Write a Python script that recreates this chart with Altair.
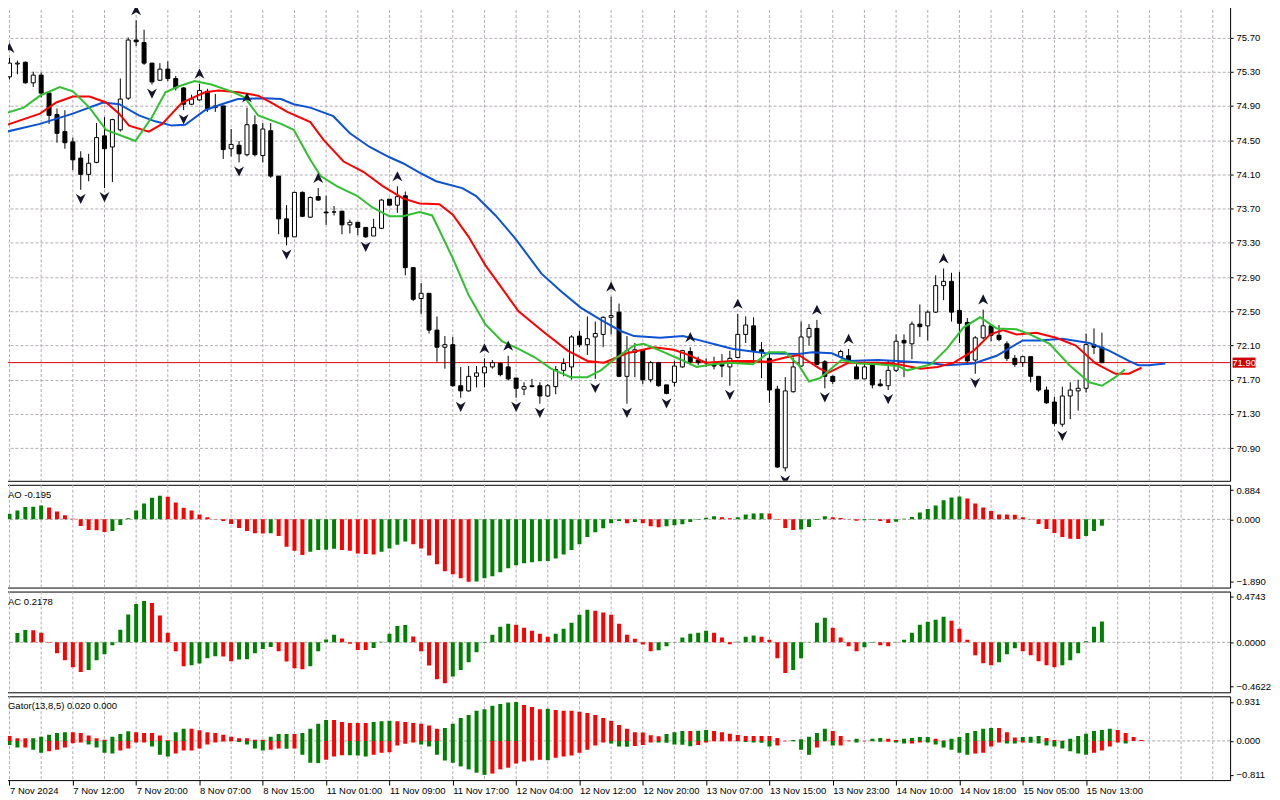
import json
import altair as alt
import pandas as pd

# ---------------- data ----------------
OPEN = [75.24, 75.39, 75.41, 75.17, 75.26, 75.05, 74.80, 74.60, 74.48, 74.29,
        74.10, 74.24, 74.55, 74.42, 74.62, 74.99, 75.67, 75.64, 75.40, 75.20,
        75.33, 75.22, 75.11, 74.92, 74.97, 75.07, 74.88, 74.90, 74.40, 74.44,
        74.33, 74.68, 74.32, 74.61, 74.08, 73.58, 73.37, 73.89, 73.60, 73.84,
        73.66, 73.66, 73.67, 73.51, 73.54, 73.48, 73.38, 73.47, 73.81, 73.74,
        73.85, 73.01, 72.65, 72.71, 72.28, 72.08, 72.11, 71.63, 71.57, 71.74,
        71.78, 71.85, 71.89, 71.85, 71.72, 71.59, 71.62, 71.63, 71.51, 71.62,
        71.81, 71.85, 72.21, 72.11, 72.20, 72.23, 72.43, 72.49, 71.74, 72.02,
        72.05, 71.70, 71.90, 71.64, 71.67, 71.85, 72.03, 71.93, 71.90, 71.88,
        71.88, 71.85, 71.96, 72.23, 72.33, 72.05, 71.95, 71.59, 70.67, 71.56,
        71.86, 72.20, 72.30, 71.91, 71.74, 71.97, 71.98, 71.85, 71.71, 71.87,
        71.65, 71.63, 71.81, 72.16, 72.12, 72.35, 72.33, 72.49, 72.80, 72.85,
        72.51, 72.37, 71.93, 72.19, 72.33, 72.22, 72.12, 71.95, 71.90, 71.97,
        71.74, 71.58, 71.44, 71.18, 71.51, 71.57, 71.60, 72.11, 72.08]
HIGH = [75.46, 75.43, 75.42, 75.30, 75.29, 75.05, 74.87, 74.85, 74.53, 74.37,
        74.34, 74.70, 74.77, 74.75, 75.22, 75.70, 75.90, 75.79, 75.40, 75.40,
        75.42, 75.25, 75.12, 75.03, 75.16, 75.10, 75.04, 74.90, 74.63, 74.49,
        74.88, 74.79, 74.70, 74.70, 74.08, 73.74, 73.89, 73.90, 73.84, 73.94,
        73.85, 73.73, 73.67, 73.57, 73.54, 73.48, 73.58, 73.81, 73.81, 73.96,
        73.90, 73.01, 72.83, 72.71, 72.44, 72.21, 72.20, 71.85, 71.86, 71.86,
        71.95, 71.93, 71.90, 71.98, 71.72, 71.67, 71.71, 71.67, 71.65, 71.86,
        71.95, 72.22, 72.27, 72.44, 72.38, 72.44, 72.67, 72.59, 72.21, 72.13,
        72.06, 71.92, 71.91, 71.64, 71.92, 72.05, 72.08, 71.97, 71.95, 71.97,
        72.00, 72.04, 72.47, 72.44, 72.43, 72.14, 72.00, 71.63, 71.73, 71.96,
        72.38, 72.35, 72.40, 71.93, 71.75, 72.05, 72.06, 71.91, 71.91, 71.89,
        71.71, 71.92, 72.23, 72.23, 72.38, 72.58, 72.51, 72.92, 73.00, 72.95,
        72.96, 72.42, 72.21, 72.52, 72.35, 72.34, 72.15, 71.99, 71.98, 71.97,
        71.74, 71.62, 71.50, 71.62, 71.67, 71.70, 72.24, 72.30, 72.25]
LOW = [75.21, 75.27, 75.16, 75.12, 75.00, 74.69, 74.47, 74.40, 74.15, 73.92,
       74.02, 74.23, 73.94, 74.01, 74.60, 74.97, 75.60, 75.38, 75.15, 75.19,
       75.19, 75.08, 74.85, 74.91, 74.96, 74.83, 74.83, 74.28, 74.31, 74.24,
       74.31, 74.31, 74.24, 74.06, 73.40, 73.27, 73.37, 73.60, 73.59, 73.79,
       73.51, 73.62, 73.40, 73.41, 73.39, 73.36, 73.38, 73.46, 73.74, 73.65,
       72.92, 72.62, 72.47, 72.24, 71.91, 71.83, 71.62, 71.49, 71.56, 71.61,
       71.61, 71.83, 71.74, 71.69, 71.49, 71.52, 71.61, 71.42, 71.50, 71.53,
       71.74, 71.70, 72.08, 71.99, 71.71, 72.08, 72.23, 71.73, 71.42, 71.73,
       71.65, 71.67, 71.62, 71.53, 71.62, 71.84, 71.87, 71.87, 71.85, 71.82,
       71.73, 71.63, 71.95, 72.13, 71.89, 71.72, 71.43, 70.67, 70.63, 71.55,
       71.85, 72.10, 71.88, 71.60, 71.65, 71.96, 71.89, 71.71, 71.71, 71.60,
       71.62, 71.58, 71.79, 71.73, 71.94, 72.20, 72.16, 72.48, 72.63, 72.38,
       72.13, 71.88, 71.77, 72.17, 72.15, 72.15, 71.92, 71.85, 71.85, 71.67,
       71.56, 71.42, 71.16, 71.15, 71.24, 71.34, 71.55, 72.00, 71.90]
CLOSE = [75.40, 75.40, 75.17, 75.26, 75.05, 74.79, 74.58, 74.47, 74.27, 74.10,
         74.23, 74.53, 74.40, 74.74, 74.98, 75.67, 75.65, 75.40, 75.18, 75.33,
         75.22, 75.11, 74.92, 74.98, 75.08, 74.87, 74.90, 74.39, 74.45, 74.34,
         74.68, 74.33, 74.63, 74.08, 73.58, 73.37, 73.89, 73.61, 73.83, 73.80,
         73.65, 73.66, 73.51, 73.54, 73.48, 73.37, 73.48, 73.80, 73.74, 73.84,
         73.01, 72.64, 72.71, 72.28, 72.08, 72.11, 71.63, 71.57, 71.74, 71.78,
         71.85, 71.90, 71.76, 71.71, 71.60, 71.62, 71.63, 71.51, 71.63, 71.82,
         71.89, 72.20, 72.11, 72.18, 72.24, 72.43, 72.45, 71.74, 72.04, 72.05,
         71.70, 71.90, 71.63, 71.54, 71.86, 72.04, 71.91, 71.90, 71.90, 71.86,
         71.86, 71.95, 72.23, 72.34, 72.04, 72.02, 71.58, 70.68, 71.57, 71.85,
         72.20, 72.30, 71.88, 71.74, 71.68, 72.03, 71.91, 71.71, 71.85, 71.64,
         71.63, 71.81, 72.15, 72.13, 72.35, 72.32, 72.49, 72.80, 72.85, 72.49,
         72.36, 71.92, 72.19, 72.33, 72.22, 72.17, 71.95, 71.88, 71.97, 71.74,
         71.58, 71.43, 71.19, 71.51, 71.58, 71.60, 72.11, 72.08, 71.90]

UP_FRACTALS = [0, 16, 24, 30, 39, 49, 60, 63, 76, 86, 92, 102, 106, 118, 123]
DOWN_FRACTALS = [9, 12, 18, 22, 29, 35, 45, 57, 64, 67, 74, 78, 83, 91, 98,
                 103, 111, 122, 133]

# Alligator lines (bar index, price)
JAW_I = [-0.3, 3.85, 8.0, 11.8, 13.85, 16.35, 18.4, 20.5, 22.2, 24.7, 26.8, 28.85,
         32.2, 34.3, 35.9, 38.0, 40.9, 43.0, 45.5, 48.0, 49.7, 51.8, 53.9, 57.2,
         58.9, 61.4, 63.9, 67.2, 69.7, 72.2, 74.7, 77.2, 78.9, 82.2, 85.1, 87.2,
         89.7, 91.4, 95.5, 99.7, 101.4, 103.9, 106.0, 109.7, 112.2, 115.9, 118.4,
         121.8, 124.7, 128.0, 130.1, 133.0, 136.4, 138.9, 141.4, 142.6, 143.9, 146.0]
JAW_V = [74.60, 74.69, 74.81, 74.94, 74.92, 74.79, 74.72, 74.67, 74.68, 74.85, 74.92,
         74.98, 74.99, 74.98, 74.92, 74.88, 74.78, 74.58, 74.42, 74.30, 74.23, 74.12,
         74.02, 73.94, 73.85, 73.62, 73.35, 72.94, 72.73, 72.54, 72.40, 72.27, 72.21,
         72.19, 72.21, 72.16, 72.10, 72.06, 72.01, 72.00, 72.02, 72.01, 71.92, 71.93,
         71.92, 71.90, 71.87, 71.89, 71.98, 72.16, 72.16, 72.18, 72.13, 72.04, 71.92,
         71.87, 71.87, 71.89]
TEETH_I = [-0.3, 3.85, 5.9, 8.0, 10.1, 12.2, 13.85, 15.1, 17.6, 19.3, 21.8, 24.7,
           26.4, 28.9, 31.4, 33.0, 35.1, 38.0, 39.7, 42.2, 44.7, 47.2, 49.7, 51.8,
           54.3, 56.0, 58.0, 60.1, 62.2, 64.3, 67.6, 70.5, 73.0, 75.1, 78.0, 81.4,
           83.9, 85.5, 88.0, 91.4, 93.9, 95.9, 98.0, 99.7, 102.2, 103.4, 106.0, 109.7,
           112.2, 115.1, 117.2, 119.3, 121.8, 123.9, 125.5, 127.2, 129.7, 132.2, 134.7,
           137.2, 139.7, 141.4, 143.0]
TEETH_V = [74.68, 74.81, 74.94, 75.01, 75.01, 74.94, 74.81, 74.67, 74.60, 74.69, 74.94,
           75.06, 75.08, 75.06, 75.02, 74.94, 74.83, 74.71, 74.50, 74.25, 74.13, 73.96,
           73.82, 73.76, 73.75, 73.63, 73.37, 73.04, 72.77, 72.50, 72.25, 72.04, 71.92,
           71.90, 72.01, 72.08, 72.05, 72.00, 71.90, 71.92, 71.92, 71.91, 71.96, 71.99,
           71.84, 71.78, 71.90, 71.90, 71.88, 71.83, 71.85, 71.90, 72.04, 72.23, 72.28,
           72.23, 72.25, 72.19, 72.10, 71.89, 71.77, 71.77, 71.84]
LIPS_I = [-0.3, 1.8, 3.85, 6.35, 8.0, 10.1, 12.2, 15.9, 18.0, 19.7, 21.4, 23.4, 25.5,
          28.0, 29.7, 31.4, 34.3, 35.9, 38.0, 39.3, 41.4, 43.9, 45.9, 48.0, 49.7, 51.8,
          53.4, 56.0, 58.0, 60.1, 62.2, 64.3, 66.4, 68.4, 70.9, 73.0, 74.7, 76.4, 78.9,
          80.1, 82.2, 84.7, 86.8, 88.9, 91.0, 93.9, 95.9, 98.0, 99.7, 101.0, 102.4,
          105.1, 107.2, 109.7, 112.2, 113.4, 116.4, 118.4, 120.5, 122.6, 124.7, 127.2,
          128.9, 131.4, 133.9, 136.4, 138.0, 139.7, 140.9]
LIPS_V = [74.82, 74.88, 75.02, 75.12, 75.07, 74.88, 74.62, 74.49, 74.77, 75.06, 75.13,
          75.19, 75.15, 75.07, 75.00, 74.79, 74.69, 74.62, 74.27, 74.08, 73.96, 73.85,
          73.71, 73.61, 73.61, 73.66, 73.62, 73.12, 72.69, 72.35, 72.15, 72.06, 71.96,
          71.83, 71.73, 71.73, 71.81, 71.94, 72.10, 72.12, 72.04, 71.94, 71.85, 71.88,
          71.90, 71.88, 72.02, 72.02, 71.87, 71.68, 71.72, 71.93, 71.89, 71.88, 71.86,
          71.81, 71.88, 72.06, 72.31, 72.43, 72.30, 72.29, 72.23, 72.12, 71.87, 71.67,
          71.63, 71.73, 71.82]

AO = [0.17, 0.27, 0.37, 0.38, 0.42, 0.36, 0.24, 0.12, 0.02, -0.20,
      -0.32, -0.33, -0.38, -0.35, -0.17, 0.03, 0.27, 0.48, 0.65, 0.71,
      0.68, 0.51, 0.35, 0.27, 0.15, 0.06, 0.01, -0.05, -0.14, -0.26,
      -0.35, -0.42, -0.43, -0.42, -0.50, -0.83, -0.95, -1.08, -0.98, -0.93,
      -0.92, -0.89, -0.93, -0.95, -1.03, -1.05, -1.06, -0.98, -0.88, -0.77,
      -0.67, -0.75, -0.88, -1.09, -1.36, -1.57, -1.66, -1.78, -1.89, -1.88,
      -1.78, -1.72, -1.60, -1.48, -1.39, -1.33, -1.30, -1.27, -1.26, -1.18,
      -1.06, -0.93, -0.75, -0.53, -0.39, -0.27, -0.12, -0.05, -0.12, -0.08,
      -0.12, -0.21, -0.24, -0.21, -0.18, -0.15, -0.08, -0.01, 0.05, 0.09,
      0.06, 0.03, 0.06, 0.15, 0.18, 0.185, 0.18, -0.01, -0.26, -0.32,
      -0.31, -0.23, -0.02, 0.09, 0.06, 0.04, 0.01, -0.04, -0.03, -0.01,
      -0.05, -0.11, -0.07, 0.02, 0.07, 0.21, 0.31, 0.42, 0.58, 0.66,
      0.69, 0.63, 0.48, 0.36, 0.25, 0.15, 0.145, 0.14, 0.06, 0.01,
      -0.14, -0.29, -0.41, -0.53, -0.59, -0.595, -0.50, -0.35, -0.195]
AO_RUNS = [("g", 5), ("r", 8), ("g", 7), ("r", 13), ("g", 1), ("r", 4), ("g", 4),
           ("r", 5), ("g", 4), ("r", 8), ("g", 19), ("r", 1), ("g", 1), ("r", 3),
           ("g", 7), ("r", 2), ("g", 4), ("r", 4), ("g", 4), ("r", 4), ("g", 2),
           ("r", 2), ("g", 9), ("r", 15), ("g", 3)]

AC = [0.0, 0.097, 0.128, 0.127, 0.10, -0.005, -0.114, -0.187, -0.26, -0.31,
      -0.29, -0.187, -0.125, -0.03, 0.13, 0.29, 0.40, 0.43, 0.41, 0.28,
      0.10, -0.094, -0.25, -0.24, -0.22, -0.167, -0.146, -0.149, -0.198, -0.18,
      -0.177, -0.114, -0.07, -0.05, -0.094, -0.20, -0.27, -0.28, -0.25, -0.094,
      0.03, 0.08, 0.04, -0.015, -0.08, -0.081, -0.059, 0.005, 0.09, 0.17,
      0.18, 0.06, -0.094, -0.243, -0.385, -0.427, -0.357, -0.29, -0.208, -0.104,
      -0.005, 0.08, 0.163, 0.194, 0.184, 0.153, 0.121, 0.09, 0.059, 0.09,
      0.142, 0.205, 0.288, 0.34, 0.33, 0.31, 0.288, 0.194, 0.08, 0.038,
      -0.024, -0.094, -0.083, -0.042, -0.003, 0.049, 0.09, 0.10, 0.121, 0.10,
      0.049, -0.02, 0.007, 0.059, 0.07, 0.059, 0.028, -0.167, -0.32, -0.29,
      -0.167, 0.003, 0.205, 0.257, 0.153, 0.049, -0.042, -0.094, -0.052, -0.005,
      -0.03, -0.042, -0.003, 0.028, 0.10, 0.184, 0.215, 0.236, 0.267, 0.225,
      0.142, 0.028, -0.135, -0.218, -0.239, -0.208, -0.125, -0.062, -0.094, -0.135,
      -0.198, -0.239, -0.26, -0.239, -0.187, -0.114, 0.01, 0.163, 0.2178]
AC_RUNS = [("g", 3), ("r", 7), ("g", 8), ("r", 5), ("g", 4), ("r", 2), ("g", 5),
           ("r", 4), ("g", 4), ("r", 4), ("g", 5), ("r", 5), ("g", 8), ("r", 5),
           ("g", 5), ("r", 8), ("g", 7), ("r", 3), ("g", 3), ("r", 4), ("g", 5),
           ("r", 4), ("g", 2), ("r", 2), ("g", 7), ("r", 6), ("g", 3), ("r", 5),
           ("g", 6)]

GATOR_UP = [0.12, 0.064, 0.064, 0.064, 0.10, 0.15, 0.19, 0.21, 0.21, 0.19,
            0.127, 0.064, 0.03, 0.10, 0.167, 0.23, 0.21, 0.19, 0.19, 0.127,
            0.016, 0.21, 0.29, 0.29, 0.255, 0.21, 0.19, 0.15, 0.10, 0.064,
            0.064, 0.03, 0.03, 0.10, 0.167, 0.167, 0.167, 0.19, 0.29, 0.41,
            0.50, 0.50, 0.45, 0.43, 0.43, 0.43, 0.45, 0.47, 0.48, 0.47,
            0.45, 0.43, 0.41, 0.37, 0.29, 0.31, 0.41, 0.55, 0.62, 0.72,
            0.76, 0.84, 0.88, 0.92, 0.931, 0.86, 0.81, 0.76, 0.77, 0.74,
            0.72, 0.72, 0.70, 0.67, 0.62, 0.55, 0.48, 0.38, 0.29, 0.21,
            0.20, 0.135, 0.11, 0.167, 0.21, 0.24, 0.24, 0.245, 0.26, 0.24,
            0.21, 0.17, 0.14, 0.12, 0.12, 0.12, 0.12, 0.07, 0.005, 0.02,
            0.04, 0.10, 0.19, 0.29, 0.24, 0.12, 0.01, 0.05, 0.005, 0.05,
            0.07, 0.05, 0.02, 0.05, 0.07, 0.095, 0.095, 0.05, 0.01, 0.05,
            0.095, 0.19, 0.24, 0.29, 0.31, 0.31, 0.21, 0.08, 0.095, 0.10,
            0.12, 0.07, 0.02, 0.005, 0.05, 0.12, 0.17, 0.24, 0.26, 0.29,
            0.26, 0.19, 0.095, 0.02]
GATOR_UP_RUNS = [("r", 3), ("g", 5), ("r", 5), ("g", 3), ("r", 5), ("g", 2), ("r", 10),
                 ("g", 3), ("r", 1), ("g", 4), ("r", 5), ("g", 3), ("r", 6), ("g", 10),
                 ("r", 3), ("g", 1), ("r", 14), ("g", 3), ("r", 1), ("g", 2), ("r", 10),
                 ("g", 5), ("r", 3), ("g", 1), ("r", 1), ("g", 2), ("r", 2), ("g", 4),
                 ("r", 2), ("g", 6), ("r", 3), ("g", 3), ("r", 3), ("g", 6), ("r", 4)]
GATOR_LO = [-0.10, -0.16, -0.16, -0.21, -0.28, -0.25, -0.21, -0.16, -0.056, -0.04,
            -0.088, -0.16, -0.28, -0.30, -0.23, -0.18, -0.04, -0.035, -0.135, -0.33,
            -0.37, -0.30, -0.23, -0.23, -0.18, -0.088, -0.04, -0.016, -0.005, -0.024,
            -0.088, -0.18, -0.23, -0.21, -0.18, -0.185, -0.18, -0.33, -0.52, -0.53,
            -0.45, -0.37, -0.34, -0.345, -0.35, -0.37, -0.33, -0.28, -0.27, -0.11,
            -0.07, -0.04, -0.088, -0.135, -0.33, -0.47, -0.52, -0.61, -0.68, -0.76,
            -0.811, -0.78, -0.68, -0.64, -0.54, -0.49, -0.47, -0.45, -0.46, -0.40,
            -0.37, -0.35, -0.28, -0.21, -0.11, -0.04, -0.064, -0.135, -0.14, -0.12,
            -0.10, -0.04, -0.04, -0.045, -0.088, -0.09, -0.127, -0.10, -0.04, -0.01,
            -0.005, -0.005, -0.01, -0.024, -0.04, -0.045, -0.135, -0.11, -0.005, -0.01,
            -0.21, -0.33, -0.16, -0.01, -0.11, -0.11, -0.01, -0.04, -0.005, -0.01,
            -0.02, -0.02, -0.04, -0.064, -0.06, -0.04, -0.04, -0.088, -0.16, -0.21,
            -0.28, -0.33, -0.30, -0.28, -0.135, -0.04, -0.064, -0.064, -0.04, -0.045,
            -0.064, -0.11, -0.135, -0.18, -0.25, -0.30, -0.33, -0.28, -0.23, -0.135,
            -0.04, -0.064]
GATOR_LO_RUNS = [("g", 2), ("r", 1), ("g", 2), ("r", 5), ("g", 4), ("r", 4), ("g", 3),
                 ("r", 8), ("g", 4), ("r", 2), ("g", 1), ("r", 1), ("g", 3), ("r", 3),
                 ("g", 3), ("r", 6), ("g", 9), ("r", 7), ("g", 1), ("r", 7), ("g", 3),
                 ("r", 3), ("g", 5), ("r", 5), ("g", 5), ("r", 2), ("g", 3), ("r", 2),
                 ("g", 1), ("r", 2), ("g", 1), ("r", 1), ("g", 2), ("r", 1), ("g", 2),
                 ("r", 2), ("g", 6), ("r", 4), ("g", 2), ("r", 1), ("g", 8), ("r", 4),
                 ("g", 1)]

TIME_LABELS = ["7 Nov 2024", "7 Nov 12:00", "7 Nov 20:00", "8 Nov 07:00", "8 Nov 15:00",
               "11 Nov 01:00", "11 Nov 09:00", "11 Nov 17:00", "12 Nov 04:00",
               "12 Nov 12:00", "12 Nov 20:00", "13 Nov 07:00", "13 Nov 15:00",
               "13 Nov 23:00", "14 Nov 10:00", "14 Nov 18:00", "15 Nov 05:00",
               "15 Nov 13:00"]
BARS_PER_LABEL = 8
GRID_EVERY = 4
PRICE_TICKS = [70.90, 71.30, 71.70, 72.10, 72.50, 72.90, 73.30, 73.70, 74.10,
               74.50, 74.90, 75.30, 75.70]
AO_TICKS = [0.884, 0.0, -1.890]
AC_TICKS = [0.4743, 0.0, -0.4622]
GATOR_TICKS = [0.931, 0.0, -0.811]
TITLES = ["AO -0.195", "AC 0.2178", "Gator(13,8,5) 0.020 0.000"]

# ---------------- styling ----------------
FONT = "Liberation Sans"
FS = 9.5
GRID = "#b4abb4"
DASH = [3, 2]
GREEN = "#008000"
RED = "#ff0000"
W = 1229
XDOM = [-0.0625, 153.5625]
PDOM = [70.519, 76.08]
AODOM = [-2.062, 1.044]
ACDOM = [-0.5215, 0.5295]
GDOM = [-0.937, 1.067]


def expand(runs, n):
    out = []
    for ch, k in runs:
        out.extend([ch] * k)
    out = (out + [out[-1]] * n)[:n]
    return [GREEN if c == "g" else RED for c in out]


def xq(field, axis=None):
    return alt.X(field, type="quantitative", axis=axis, title=None,
                 scale=alt.Scale(domain=XDOM, nice=False, zero=False))


def yq(field, dom, axis):
    return alt.Y(field, type="quantitative", axis=axis, title=None,
                 scale=alt.Scale(domain=dom, nice=False, zero=False))


def y_axis(values, fmt, grid=False):
    return alt.Axis(orient="right", values=values, format=fmt, grid=grid,
                    gridColor=GRID, gridDash=DASH, gridWidth=1, ticks=True,
                    tickSize=3, tickColor="black", domain=False, labelFont=FONT,
                    labelFontSize=FS, labelColor="black", labelPadding=3,
                    labelOverlap=False, labelBound=False)


label_idx = [k * BARS_PER_LABEL for k in range(len(TIME_LABELS))]
grid_idx = list(range(0, int(XDOM[1]) + 1, GRID_EVERY))
label_expr = json.dumps(TIME_LABELS) + "[round(datum.value / %d)]" % BARS_PER_LABEL
time_axis = alt.Axis(values=label_idx, labelExpr=label_expr, labelAlign="left",
                     labelOverlap=False, labelFlush=False, labelBound=False,
                     tickSize=5, tickColor="black", domain=False, grid=False,
                     labelFont=FONT, labelFontSize=FS, labelColor="black",
                     labelPadding=0)

price_axis = y_axis(PRICE_TICKS, ".2f", grid=True)


def vgrid(axis=None):
    return alt.Chart(pd.DataFrame({"g": grid_idx})).mark_rule(
        color=GRID, strokeDash=DASH, strokeWidth=1).encode(x=xq("g", axis))


# ---------------- main price panel ----------------
n = min(len(OPEN), len(HIGH), len(LOW), len(CLOSE))
cdf = pd.DataFrame({"i": list(range(n)), "open": OPEN[:n], "high": HIGH[:n],
                    "low": LOW[:n], "close": CLOSE[:n]})
cdf["fill"] = ["white" if c >= o else "black" for o, c in zip(cdf["open"], cdf["close"])]

wick = alt.Chart(cdf).mark_rule(color="black", strokeWidth=1).encode(
    x=xq("i"), y=yq("low", PDOM, price_axis), y2="high")
body = alt.Chart(cdf).mark_bar(size=4, stroke="black", strokeWidth=1).encode(
    x=xq("i"), y=yq("open", PDOM, price_axis), y2="close",
    fill=alt.Fill("fill:N", scale=None))

rows = []
for name, xs, vs, col in [("jaw", JAW_I, JAW_V, "#0b52d4"),
                          ("teeth", TEETH_I, TEETH_V, "#ff0000"),
                          ("lips", LIPS_I, LIPS_V, "#30c030")]:
    for a, b in zip(xs, vs):
        rows.append({"i": a, "v": b, "s": name, "col": col})
ldf = pd.DataFrame(rows)
lines = alt.Chart(ldf).mark_line(strokeWidth=2, clip=True).encode(
    x=xq("i"), y=yq("v", PDOM, price_axis), detail="s:N",
    color=alt.Color("col:N", scale=None), order="i:Q")

last = CLOSE[n - 1]
bid = alt.Chart(pd.DataFrame({"p": [last]})).mark_rule(color="#e00000", strokeWidth=1).encode(
    y=yq("p", PDOM, price_axis))

up_df = pd.DataFrame({"i": UP_FRACTALS, "p": [HIGH[k] for k in UP_FRACTALS]})
dn_df = pd.DataFrame({"i": DOWN_FRACTALS, "p": [LOW[k] for k in DOWN_FRACTALS]})
up_mk = alt.Chart(up_df).mark_point(
    shape="M0,-1L0.95,0.95L0,0.35L-0.95,0.95Z", filled=True, color="#14142a",
    size=110, opacity=1, yOffset=-10, clip=True).encode(
    x=xq("i"), y=yq("p", PDOM, price_axis))
dn_mk = alt.Chart(dn_df).mark_point(
    shape="M0,1L0.95,-0.95L0,-0.35L-0.95,-0.95Z", filled=True, color="#14142a",
    size=110, opacity=1, yOffset=9, clip=True).encode(
    x=xq("i"), y=yq("p", PDOM, price_axis))

tag_df = pd.DataFrame({"p": [last], "t": ["%.2f" % last]})
tag_box = alt.Chart(tag_df).mark_point(
    shape="M-1,-0.44L1,-0.44L1,0.44L-1,0.44Z", filled=True, color="#d00000",
    size=529, opacity=1).encode(x=alt.value(W + 14), y=yq("p", PDOM, price_axis))
tag_txt = alt.Chart(tag_df).mark_text(color="white", font=FONT, fontSize=FS).encode(
    x=alt.value(W + 14), y=yq("p", PDOM, price_axis), text="t:N")

main = alt.layer(vgrid(), bid, wick, body, lines, up_mk, dn_mk, tag_box, tag_txt).properties(
    width=W, height=477)


# ---------------- indicator panels ----------------
def title_layer(t):
    return alt.Chart(pd.DataFrame({"t": [t]})).mark_text(
        align="left", baseline="top", font=FONT, fontSize=FS, color="black").encode(
        x=alt.value(4), y=alt.value(5), text="t:N")


def zero_layer(dom, axis):
    return alt.Chart(pd.DataFrame({"z": [0.0]})).mark_rule(
        color="#a8a8a8", strokeDash=DASH, strokeWidth=1).encode(y=yq("z", dom, axis))


def hist(vals, runs, dom, axis, xaxis=None):
    m = len(vals)
    d = pd.DataFrame({"i": list(range(m)), "v": vals, "z": [0.0] * m,
                      "col": expand(runs, m)})
    return alt.Chart(d).mark_bar(size=4, clip=True).encode(
        x=xq("i", xaxis), y=yq("v", dom, axis), y2="z",
        color=alt.Color("col:N", scale=None))


ao_axis = y_axis(AO_TICKS, ".3f")
ac_axis = y_axis(AC_TICKS, ".4f")
g_axis = y_axis(GATOR_TICKS, ".3f")

ao = alt.layer(vgrid(), zero_layer(AODOM, ao_axis), hist(AO, AO_RUNS, AODOM, ao_axis),
               title_layer(TITLES[0])).properties(width=W, height=103)
ac = alt.layer(vgrid(), zero_layer(ACDOM, ac_axis), hist(AC, AC_RUNS, ACDOM, ac_axis),
               title_layer(TITLES[1])).properties(width=W, height=101)
gator = alt.layer(vgrid(time_axis), zero_layer(GDOM, g_axis),
                  hist(GATOR_UP, GATOR_UP_RUNS, GDOM, g_axis, time_axis),
                  hist(GATOR_LO, GATOR_LO_RUNS, GDOM, g_axis, time_axis),
                  title_layer(TITLES[2])).properties(width=W, height=84)

chart = alt.vconcat(main, ao, ac, gator, spacing=2).resolve_scale(
    x="independent", y="independent").configure_view(
    stroke="black", strokeWidth=1).properties(
    padding={"left": -5, "top": -5, "right": 0, "bottom": 0}, background="white")

chart.save("out.html", embed_options={"renderer": "svg", "actions": False})
